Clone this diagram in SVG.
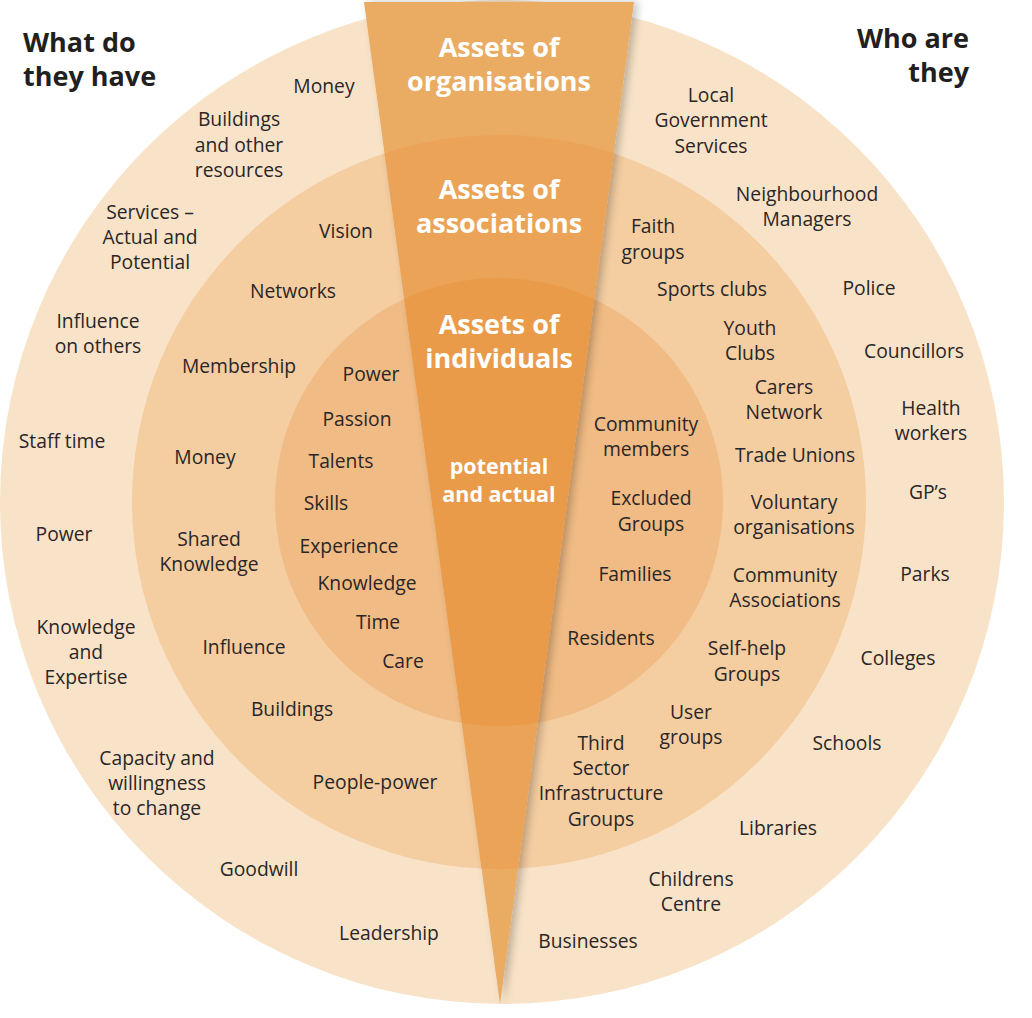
<svg xmlns="http://www.w3.org/2000/svg" width="1032" height="1018" viewBox="0 0 1032 1018">
<defs>
<style>
.t{font-family:"Open Sans","Noto Sans","Liberation Sans",sans-serif;font-size:19.3px;fill:#2a2627;text-anchor:middle}
.h{font-family:"Open Sans","Noto Sans","Liberation Sans",sans-serif;font-size:27px;font-weight:bold;fill:#231f20}
.w{font-family:"Open Sans","Noto Sans","Liberation Sans",sans-serif;font-size:27px;font-weight:bold;fill:#ffffff;text-anchor:middle}
.ws{font-family:"Open Sans","Noto Sans","Liberation Sans",sans-serif;font-size:21.5px;font-weight:bold;fill:#ffffff;text-anchor:middle}
</style>
<clipPath id="cMid"><circle cx="499" cy="502" r="367"/></clipPath>
<clipPath id="cIn"><circle cx="499" cy="502" r="224"/></clipPath>
<filter id="sh" x="-20%" y="-5%" width="140%" height="110%">
<feGaussianBlur in="SourceAlpha" stdDeviation="4"/>
<feOffset dx="4" dy="0" result="b"/>
<feComponentTransfer><feFuncA type="linear" slope="0.25"/></feComponentTransfer>
<feMerge><feMergeNode/><feMergeNode in="SourceGraphic"/></feMerge>
</filter>
</defs>
<rect width="1032" height="1018" fill="#ffffff"/>
<g id="rings">
<circle id="outer-ring" cx="502" cy="502" r="502" fill="#f9e3c8"/>
<circle id="middle-ring" cx="499" cy="502" r="367" fill="#f4cda1"/>
<circle id="inner-ring" cx="499" cy="502" r="224" fill="#f0bb84"/>
</g>
<g id="wedge">
<polygon points="364,2 634,2 500,1004" fill="#eaab63" filter="url(#sh)"/>
<polygon points="364,2 634,2 500,1004" fill="#eba457" clip-path="url(#cMid)"/>
<polygon points="364,2 634,2 500,1004" fill="#e99b49" clip-path="url(#cIn)"/>
</g>
<g id="wedge-labels">
<g id="organisations"><text class="w" x="499" y="57">Assets of</text><text class="w" x="499" y="91">organisations</text></g>
<g id="associations"><text class="w" x="499" y="199">Assets of</text><text class="w" x="499" y="233">associations</text></g>
<g id="individuals"><text class="w" x="499" y="334">Assets of</text><text class="w" x="499" y="368">individuals</text></g>
<g id="potential"><text class="ws" x="499" y="474">potential</text><text class="ws" x="499" y="502">and actual</text></g>
</g>
<g id="headings">
<g id="what-do-they-have"><text class="h" x="23" y="52">What do</text><text class="h" x="23" y="86">they have</text></g>
<g id="who-are-they"><text class="h" x="969" y="48" text-anchor="end">Who are</text><text class="h" x="969" y="82" text-anchor="end">they</text></g>
</g>
<g id="outer-left">
<g id="n-money1"><text class="t" x="324" y="93">Money</text></g>
<g id="n-buildings-other"><text class="t" x="239" y="126">Buildings</text><text class="t" x="239" y="152">and other</text><text class="t" x="239" y="177">resources</text></g>
<g id="n-services"><text class="t" x="150" y="219">Services –</text><text class="t" x="150" y="244">Actual and</text><text class="t" x="150" y="269">Potential</text></g>
<g id="n-influence-others"><text class="t" x="98" y="328">Influence</text><text class="t" x="98" y="353">on others</text></g>
<g id="n-staff-time"><text class="t" x="62" y="448">Staff time</text></g>
<g id="n-power1"><text class="t" x="64" y="541">Power</text></g>
<g id="n-knowledge-expertise"><text class="t" x="86" y="634">Knowledge</text><text class="t" x="86" y="659">and</text><text class="t" x="86" y="684">Expertise</text></g>
<g id="n-capacity"><text class="t" x="157" y="765">Capacity and</text><text class="t" x="157" y="790">willingness</text><text class="t" x="157" y="815">to change</text></g>
<g id="n-goodwill"><text class="t" x="259" y="876">Goodwill</text></g>
<g id="n-leadership"><text class="t" x="389" y="940">Leadership</text></g>
</g>
<g id="middle-left">
<g id="n-vision"><text class="t" x="346" y="238">Vision</text></g>
<g id="n-networks"><text class="t" x="293" y="298">Networks</text></g>
<g id="n-membership"><text class="t" x="239" y="373">Membership</text></g>
<g id="n-money2"><text class="t" x="205" y="464">Money</text></g>
<g id="n-shared-knowledge"><text class="t" x="209" y="546">Shared</text><text class="t" x="209" y="571">Knowledge</text></g>
<g id="n-influence"><text class="t" x="244" y="654">Influence</text></g>
<g id="n-buildings"><text class="t" x="292" y="716">Buildings</text></g>
<g id="n-people-power"><text class="t" x="375" y="789">People-power</text></g>
</g>
<g id="inner-left">
<g id="n-power2"><text class="t" x="371" y="381">Power</text></g>
<g id="n-passion"><text class="t" x="357" y="426">Passion</text></g>
<g id="n-talents"><text class="t" x="341" y="468">Talents</text></g>
<g id="n-skills"><text class="t" x="326" y="510">Skills</text></g>
<g id="n-experience"><text class="t" x="349" y="553">Experience</text></g>
<g id="n-knowledge"><text class="t" x="367" y="590">Knowledge</text></g>
<g id="n-time"><text class="t" x="378" y="629">Time</text></g>
<g id="n-care"><text class="t" x="403" y="668">Care</text></g>
</g>
<g id="inner-right">
<g id="n-community-members"><text class="t" x="646" y="431">Community</text><text class="t" x="646" y="456">members</text></g>
<g id="n-excluded"><text class="t" x="651" y="505">Excluded</text><text class="t" x="651" y="531">Groups</text></g>
<g id="n-families"><text class="t" x="635" y="581">Families</text></g>
<g id="n-residents"><text class="t" x="611" y="645">Residents</text></g>
</g>
<g id="middle-right">
<g id="n-faith"><text class="t" x="653" y="233">Faith</text><text class="t" x="653" y="259">groups</text></g>
<g id="n-sports"><text class="t" x="712" y="296">Sports clubs</text></g>
<g id="n-youth"><text class="t" x="750" y="335">Youth</text><text class="t" x="750" y="360">Clubs</text></g>
<g id="n-carers"><text class="t" x="784" y="394">Carers</text><text class="t" x="784" y="419">Network</text></g>
<g id="n-trade"><text class="t" x="795" y="462">Trade Unions</text></g>
<g id="n-voluntary"><text class="t" x="794" y="509">Voluntary</text><text class="t" x="794" y="534">organisations</text></g>
<g id="n-community-assoc"><text class="t" x="785" y="582">Community</text><text class="t" x="785" y="607">Associations</text></g>
<g id="n-selfhelp"><text class="t" x="747" y="655">Self-help</text><text class="t" x="747" y="681">Groups</text></g>
<g id="n-user"><text class="t" x="691" y="719">User</text><text class="t" x="691" y="744">groups</text></g>
<g id="n-third"><text class="t" x="601" y="750">Third</text><text class="t" x="601" y="775">Sector</text><text class="t" x="601" y="800">Infrastructure</text><text class="t" x="601" y="826">Groups</text></g>
</g>
<g id="outer-right">
<g id="n-local"><text class="t" x="711" y="102">Local</text><text class="t" x="711" y="127">Government</text><text class="t" x="711" y="153">Services</text></g>
<g id="n-neighbourhood"><text class="t" x="807" y="201">Neighbourhood</text><text class="t" x="807" y="226">Managers</text></g>
<g id="n-police"><text class="t" x="869" y="295">Police</text></g>
<g id="n-councillors"><text class="t" x="914" y="358">Councillors</text></g>
<g id="n-health"><text class="t" x="931" y="415">Health</text><text class="t" x="931" y="440">workers</text></g>
<g id="n-gps"><text class="t" x="928" y="499">GP’s</text></g>
<g id="n-parks"><text class="t" x="925" y="581">Parks</text></g>
<g id="n-colleges"><text class="t" x="898" y="665">Colleges</text></g>
<g id="n-schools"><text class="t" x="847" y="750">Schools</text></g>
<g id="n-libraries"><text class="t" x="778" y="835">Libraries</text></g>
<g id="n-childrens"><text class="t" x="691" y="886">Childrens</text><text class="t" x="691" y="911">Centre</text></g>
<g id="n-businesses"><text class="t" x="588" y="948">Businesses</text></g>
</g>
<g id="connectors"/>
</svg>
